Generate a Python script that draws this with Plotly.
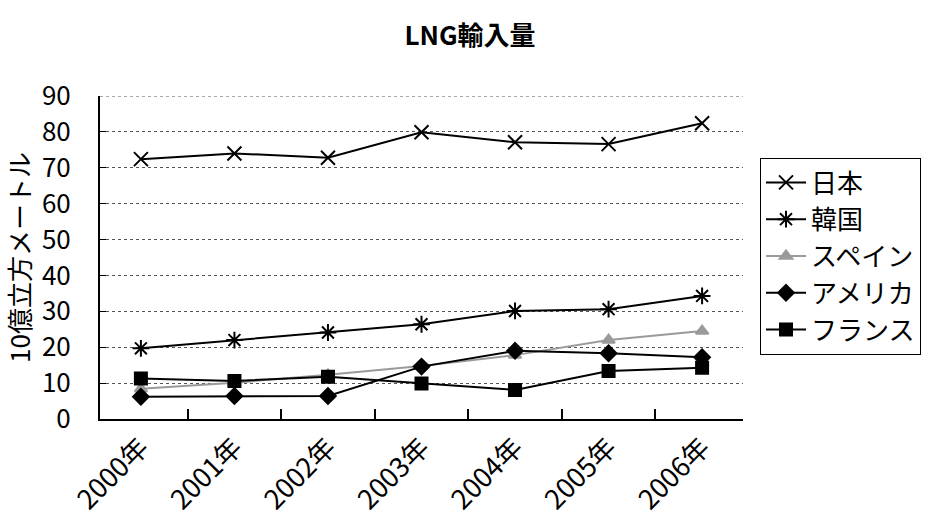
import plotly.graph_objects as go

years = ["2000年", "2001年", "2002年", "2003年", "2004年", "2005年", "2006年"]

japan = [72.4, 74.0, 72.8, 79.9, 77.1, 76.6, 82.4]
korea = [19.7, 22.0, 24.1, 26.4, 30.1, 30.6, 34.3]
spain = [8.4, 10.1, 12.3, 14.8, 17.8, 22.0, 24.5]
usa = [6.2, 6.4, 6.4, 14.6, 19.0, 18.3, 17.2]
france = [11.3, 10.6, 11.8, 9.9, 8.1, 13.4, 14.3]

FONT = "Liberation Sans Narrow, Arial Narrow, Noto Sans CJK JP, sans-serif"
JP = "Noto Sans CJK JP, sans-serif"

series = [
    ("日本", japan, "x-thin", "black", 14),
    ("韓国", korea, "asterisk", "black", 14),
    ("スペイン", spain, "triangle-up", "#9a9a9a", 11),
    ("アメリカ", usa, "diamond", "black", 12),
    ("フランス", france, "square", "black", 12),
]

fig = go.Figure()
for name, vals, sym, col, size in series:
    fig.add_trace(go.Scatter(
        x=years, y=vals, name=name, mode="lines+markers",
        line=dict(color=col, width=2),
        marker=dict(symbol=sym, size=size, color=col,
                    line=dict(color=col, width=2)),
    ))

fig.update_layout(
    width=943, height=530,
    margin=dict(l=100, r=200, t=96, b=111),
    paper_bgcolor="white", plot_bgcolor="white",
    title=dict(text="<b>LNG輸入量</b>", x=470 / 943, xref="container", xanchor="center",
               y=1 - 36 / 530, yref="container", yanchor="middle",
               font=dict(family=JP, size=26, color="black")),
    font=dict(family=FONT, color="black"),
    showlegend=True,
    legend=dict(
        xref="container", yref="container", x=760 / 943, y=1 - 158 / 530,
        xanchor="left", yanchor="top",
        bordercolor="black", borderwidth=1, bgcolor="white",
        font=dict(family=JP, size=26, color="black"),
        itemwidth=40, tracegroupgap=0,
    ),
    # top gridline at the 90 mark
    shapes=[dict(type="line", xref="paper", yref="y", x0=0, x1=1, y0=90, y1=90,
                 line=dict(color="#555555", width=1, dash="dot"))],
)

fig.update_xaxes(
    type="category", showline=True, linecolor="black", linewidth=2,
    ticks="inside", tickson="boundaries", ticklen=10, tickcolor="black",
    tickwidth=1.5, showgrid=False, tickangle=-45,
    tickfont=dict(family=FONT, size=27, color="black"),
)
fig.update_yaxes(
    range=[0, 90], dtick=10, showline=True, linecolor="black", linewidth=2,
    ticks="inside", ticklen=6, tickcolor="black",
    showgrid=True, gridcolor="#555555", griddash="dot", gridwidth=1,
    zeroline=False, ticklabelstandoff=22,
    tickfont=dict(family=FONT, size=26, color="black"),
    title=dict(text="10億立方メートル", standoff=12,
               font=dict(family=JP, size=26, color="black")),
)

fig.write_html("out.html")
